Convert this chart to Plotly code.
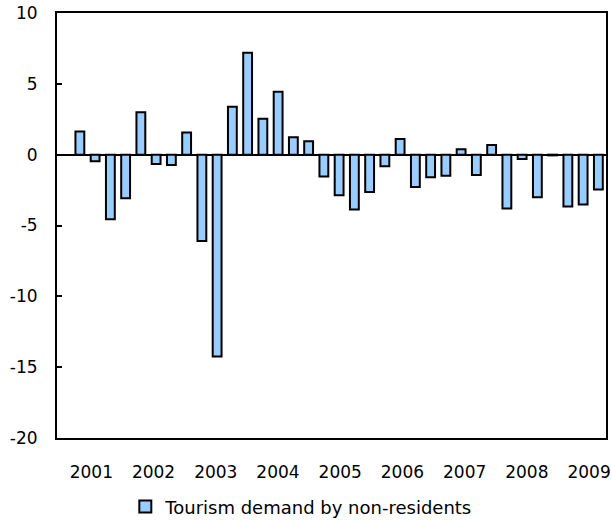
import plotly.graph_objects as go

years = ["2001", "2002", "2003", "2004", "2005", "2006", "2007", "2008", "2009"]
# quarterly values, first slot empty
values = [None,
          1.64, -0.47, -4.56, -3.07,
          3.00, -0.66, -0.73, 1.56,
          -6.10, -14.25, 3.38, 7.20,
          2.54, 4.44, 1.23, 0.95,
          -1.54, -2.86, -3.87, -2.63,
          -0.82, 1.10, -2.28, -1.60,
          -1.48, 0.38, -1.43, 0.68,
          -3.80, -0.30, -3.00, -0.05,
          -3.66, -3.52, -2.46]
y_ticks = [-20, -15, -10, -5, 0, 5, 10]
y_ticktext = ["-20", "-15", "-10", "-5", "0", "5", "10"]
x_idx = list(range(len(values)))
year_tick_pos = [1.75 + 4.08 * i for i in range(len(years))]

FONT = "DejaVu Sans, Arial, sans-serif"

fig = go.Figure()
fig.add_trace(go.Bar(
    x=x_idx, y=values,
    name="Tourism demand by non-residents",
    marker=dict(color="#99CCFF", line=dict(color="black", width=2)),
    width=0.58,
))

fig.update_layout(
    width=612, height=520,
    margin=dict(l=57, r=6, t=13, b=82, autoexpand=False),
    paper_bgcolor="white", plot_bgcolor="white",
    font=dict(family=FONT, size=17, color="black"),
    showlegend=True,
    legend=dict(orientation="h", x=0.445, xanchor="center", y=-0.162, yanchor="middle",
                font=dict(size=18), itemwidth=30),
    xaxis=dict(range=[-0.5, 35.5], tickmode="array", tickvals=year_tick_pos, ticktext=years,
               showgrid=False, zeroline=False, showline=True, linecolor="black", linewidth=2,
               mirror=True, ticks="", ticklabelstandoff=18),
    yaxis=dict(range=[-20, 10], tickmode="array", tickvals=y_ticks, ticktext=y_ticktext,
               showgrid=False, zeroline=True, zerolinecolor="black", zerolinewidth=2,
               showline=True, linecolor="black", linewidth=2, mirror=True,
               ticks="inside", ticklen=5, tickwidth=2, tickcolor="black",
               ticklabelstandoff=14),
)

fig.write_html("out.html")
